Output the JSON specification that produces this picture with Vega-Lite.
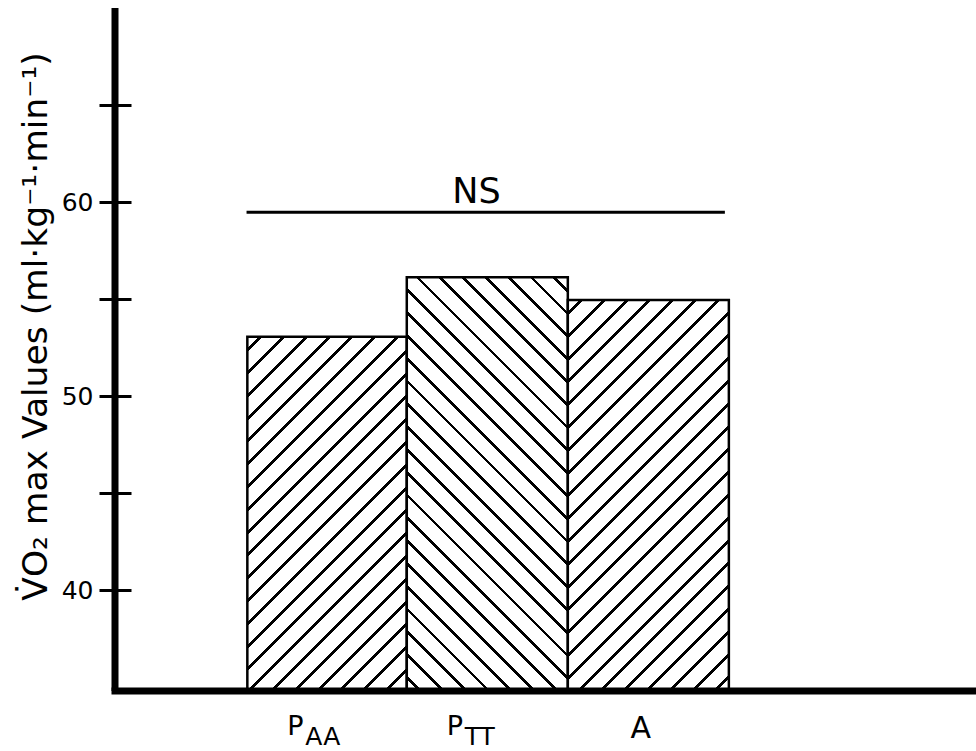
{
  "$schema": "https://vega.github.io/schema/vega-lite/v6.json",
  "width": 861,
  "height": 683,
  "autosize": {"type": "none"},
  "padding": {"left": 115, "top": 8, "right": 0, "bottom": 60},
  "background": "white",
  "config": {"view": {"stroke": null}, "font": "DejaVu Sans"},
  "datasets": {
    "bars": [
      {"group": "PAA", "main": "P", "sub": "AA", "x0": 0.83, "x1": 1.83, "vo2": 53.06},
      {"group": "PTT", "main": "P", "sub": "TT", "x0": 1.83, "x1": 2.84, "vo2": 56.12},
      {"group": "A", "main": "A", "sub": "", "x0": 2.84, "x1": 3.85, "vo2": 54.95}
    ],
    "ns": [{"label": "NS", "from": 0.825, "to": 3.825, "level": 59.47}]
  },
  "layer": [
    {
      "data": {"name": "bars"},
      "transform": [{"filter": "datum.group === 'PAA'"}],
      "mark": {"type": "rect", "stroke": "black", "strokeWidth": 2.5,
        "fill": {"gradient": "linear", "x1": 0, "y1": 0, "x2": 0.6262, "y2": 1.3914, "stops": [
          {"offset":0,"color":"#fff"},
          {"offset":0.01978,"color":"#fff"},{"offset":0.01978,"color":"#000"},{"offset":0.02638,"color":"#000"},{"offset":0.02638,"color":"#fff"},
          {"offset":0.05824,"color":"#fff"},{"offset":0.05824,"color":"#000"},{"offset":0.06484,"color":"#000"},{"offset":0.06484,"color":"#fff"},
          {"offset":0.0967,"color":"#fff"},{"offset":0.0967,"color":"#000"},{"offset":0.1033,"color":"#000"},{"offset":0.1033,"color":"#fff"},
          {"offset":0.13516,"color":"#fff"},{"offset":0.13516,"color":"#000"},{"offset":0.14176,"color":"#000"},{"offset":0.14176,"color":"#fff"},
          {"offset":0.17362,"color":"#fff"},{"offset":0.17362,"color":"#000"},{"offset":0.18022,"color":"#000"},{"offset":0.18022,"color":"#fff"},
          {"offset":0.21208,"color":"#fff"},{"offset":0.21208,"color":"#000"},{"offset":0.21868,"color":"#000"},{"offset":0.21868,"color":"#fff"},
          {"offset":0.25055,"color":"#fff"},{"offset":0.25055,"color":"#000"},{"offset":0.25715,"color":"#000"},{"offset":0.25715,"color":"#fff"},
          {"offset":0.28901,"color":"#fff"},{"offset":0.28901,"color":"#000"},{"offset":0.29561,"color":"#000"},{"offset":0.29561,"color":"#fff"},
          {"offset":0.32747,"color":"#fff"},{"offset":0.32747,"color":"#000"},{"offset":0.33407,"color":"#000"},{"offset":0.33407,"color":"#fff"},
          {"offset":0.36593,"color":"#fff"},{"offset":0.36593,"color":"#000"},{"offset":0.37253,"color":"#000"},{"offset":0.37253,"color":"#fff"},
          {"offset":0.40439,"color":"#fff"},{"offset":0.40439,"color":"#000"},{"offset":0.41099,"color":"#000"},{"offset":0.41099,"color":"#fff"},
          {"offset":0.44285,"color":"#fff"},{"offset":0.44285,"color":"#000"},{"offset":0.44945,"color":"#000"},{"offset":0.44945,"color":"#fff"},
          {"offset":0.48132,"color":"#fff"},{"offset":0.48132,"color":"#000"},{"offset":0.48792,"color":"#000"},{"offset":0.48792,"color":"#fff"},
          {"offset":0.51978,"color":"#fff"},{"offset":0.51978,"color":"#000"},{"offset":0.52638,"color":"#000"},{"offset":0.52638,"color":"#fff"},
          {"offset":0.55824,"color":"#fff"},{"offset":0.55824,"color":"#000"},{"offset":0.56484,"color":"#000"},{"offset":0.56484,"color":"#fff"},
          {"offset":0.5967,"color":"#fff"},{"offset":0.5967,"color":"#000"},{"offset":0.6033,"color":"#000"},{"offset":0.6033,"color":"#fff"},
          {"offset":0.63516,"color":"#fff"},{"offset":0.63516,"color":"#000"},{"offset":0.64176,"color":"#000"},{"offset":0.64176,"color":"#fff"},
          {"offset":0.67362,"color":"#fff"},{"offset":0.67362,"color":"#000"},{"offset":0.68022,"color":"#000"},{"offset":0.68022,"color":"#fff"},
          {"offset":0.71208,"color":"#fff"},{"offset":0.71208,"color":"#000"},{"offset":0.71868,"color":"#000"},{"offset":0.71868,"color":"#fff"},
          {"offset":0.75055,"color":"#fff"},{"offset":0.75055,"color":"#000"},{"offset":0.75715,"color":"#000"},{"offset":0.75715,"color":"#fff"},
          {"offset":0.78901,"color":"#fff"},{"offset":0.78901,"color":"#000"},{"offset":0.79561,"color":"#000"},{"offset":0.79561,"color":"#fff"},
          {"offset":0.82747,"color":"#fff"},{"offset":0.82747,"color":"#000"},{"offset":0.83407,"color":"#000"},{"offset":0.83407,"color":"#fff"},
          {"offset":0.86593,"color":"#fff"},{"offset":0.86593,"color":"#000"},{"offset":0.87253,"color":"#000"},{"offset":0.87253,"color":"#fff"},
          {"offset":0.90439,"color":"#fff"},{"offset":0.90439,"color":"#000"},{"offset":0.91099,"color":"#000"},{"offset":0.91099,"color":"#fff"},
          {"offset":0.94285,"color":"#fff"},{"offset":0.94285,"color":"#000"},{"offset":0.94945,"color":"#000"},{"offset":0.94945,"color":"#fff"},
          {"offset":0.98132,"color":"#fff"},{"offset":0.98132,"color":"#000"},{"offset":0.98792,"color":"#000"},{"offset":0.98792,"color":"#fff"},
          {"offset":1,"color":"#fff"}
        ]}},
      "encoding": {
        "x": {"field": "x0", "type": "quantitative", "scale": {"domain": [0, 5.4], "nice": false, "zero": false}, "axis": null},
        "x2": {"field": "x1"},
        "y": {"field": "vo2", "type": "quantitative",
          "scale": {"domain": [34.8, 70], "nice": false, "zero": false},
          "axis": {
            "values": [40, 45, 50, 55, 60, 65],
            "labelExpr": "datum.value % 10 === 0 ? datum.label : ''",
            "domain": false, "grid": false, "offset": -16,
            "tickSize": 32, "tickWidth": 3, "tickColor": "black",
            "labelFontSize": 25, "labelColor": "black", "labelPadding": 6, "labelFont": "DejaVu Sans",
            "title": "V\u0307O\u2082 max Values (ml\u00b7kg\u207b\u00b9\u00b7min\u207b\u00b9)",
            "titleFontSize": 34.5, "titleFontWeight": "normal", "titleColor": "black", "titleFont": "DejaVu Sans",
            "titlePadding": 8, "titleY": 318
          }},
        "y2": {"datum": 34.8}
      }
    },
    {
      "data": {"name": "bars"},
      "transform": [{"filter": "datum.group === 'PTT'"}],
      "mark": {"type": "rect", "stroke": "black", "strokeWidth": 2.5,
        "fill": {"gradient": "linear", "x1": 1, "y1": 0, "x2": 0.5156, "y2": 1.2444, "stops": [
          {"offset":0,"color":"#fff"},
          {"offset":0.01978,"color":"#fff"},{"offset":0.01978,"color":"#000"},{"offset":0.02638,"color":"#000"},{"offset":0.02638,"color":"#fff"},
          {"offset":0.05824,"color":"#fff"},{"offset":0.05824,"color":"#000"},{"offset":0.06484,"color":"#000"},{"offset":0.06484,"color":"#fff"},
          {"offset":0.0967,"color":"#fff"},{"offset":0.0967,"color":"#000"},{"offset":0.1033,"color":"#000"},{"offset":0.1033,"color":"#fff"},
          {"offset":0.13516,"color":"#fff"},{"offset":0.13516,"color":"#000"},{"offset":0.14176,"color":"#000"},{"offset":0.14176,"color":"#fff"},
          {"offset":0.17362,"color":"#fff"},{"offset":0.17362,"color":"#000"},{"offset":0.18022,"color":"#000"},{"offset":0.18022,"color":"#fff"},
          {"offset":0.21208,"color":"#fff"},{"offset":0.21208,"color":"#000"},{"offset":0.21868,"color":"#000"},{"offset":0.21868,"color":"#fff"},
          {"offset":0.25055,"color":"#fff"},{"offset":0.25055,"color":"#000"},{"offset":0.25715,"color":"#000"},{"offset":0.25715,"color":"#fff"},
          {"offset":0.28901,"color":"#fff"},{"offset":0.28901,"color":"#000"},{"offset":0.29561,"color":"#000"},{"offset":0.29561,"color":"#fff"},
          {"offset":0.32747,"color":"#fff"},{"offset":0.32747,"color":"#000"},{"offset":0.33407,"color":"#000"},{"offset":0.33407,"color":"#fff"},
          {"offset":0.36593,"color":"#fff"},{"offset":0.36593,"color":"#000"},{"offset":0.37253,"color":"#000"},{"offset":0.37253,"color":"#fff"},
          {"offset":0.40439,"color":"#fff"},{"offset":0.40439,"color":"#000"},{"offset":0.41099,"color":"#000"},{"offset":0.41099,"color":"#fff"},
          {"offset":0.44285,"color":"#fff"},{"offset":0.44285,"color":"#000"},{"offset":0.44945,"color":"#000"},{"offset":0.44945,"color":"#fff"},
          {"offset":0.48132,"color":"#fff"},{"offset":0.48132,"color":"#000"},{"offset":0.48792,"color":"#000"},{"offset":0.48792,"color":"#fff"},
          {"offset":0.51978,"color":"#fff"},{"offset":0.51978,"color":"#000"},{"offset":0.52638,"color":"#000"},{"offset":0.52638,"color":"#fff"},
          {"offset":0.55824,"color":"#fff"},{"offset":0.55824,"color":"#000"},{"offset":0.56484,"color":"#000"},{"offset":0.56484,"color":"#fff"},
          {"offset":0.5967,"color":"#fff"},{"offset":0.5967,"color":"#000"},{"offset":0.6033,"color":"#000"},{"offset":0.6033,"color":"#fff"},
          {"offset":0.63516,"color":"#fff"},{"offset":0.63516,"color":"#000"},{"offset":0.64176,"color":"#000"},{"offset":0.64176,"color":"#fff"},
          {"offset":0.67362,"color":"#fff"},{"offset":0.67362,"color":"#000"},{"offset":0.68022,"color":"#000"},{"offset":0.68022,"color":"#fff"},
          {"offset":0.71208,"color":"#fff"},{"offset":0.71208,"color":"#000"},{"offset":0.71868,"color":"#000"},{"offset":0.71868,"color":"#fff"},
          {"offset":0.75055,"color":"#fff"},{"offset":0.75055,"color":"#000"},{"offset":0.75715,"color":"#000"},{"offset":0.75715,"color":"#fff"},
          {"offset":0.78901,"color":"#fff"},{"offset":0.78901,"color":"#000"},{"offset":0.79561,"color":"#000"},{"offset":0.79561,"color":"#fff"},
          {"offset":0.82747,"color":"#fff"},{"offset":0.82747,"color":"#000"},{"offset":0.83407,"color":"#000"},{"offset":0.83407,"color":"#fff"},
          {"offset":0.86593,"color":"#fff"},{"offset":0.86593,"color":"#000"},{"offset":0.87253,"color":"#000"},{"offset":0.87253,"color":"#fff"},
          {"offset":0.90439,"color":"#fff"},{"offset":0.90439,"color":"#000"},{"offset":0.91099,"color":"#000"},{"offset":0.91099,"color":"#fff"},
          {"offset":0.94285,"color":"#fff"},{"offset":0.94285,"color":"#000"},{"offset":0.94945,"color":"#000"},{"offset":0.94945,"color":"#fff"},
          {"offset":0.98132,"color":"#fff"},{"offset":0.98132,"color":"#000"},{"offset":0.98792,"color":"#000"},{"offset":0.98792,"color":"#fff"},
          {"offset":1,"color":"#fff"}
        ]}},
      "encoding": {
        "x": {"field": "x0", "type": "quantitative", "axis": null},
        "x2": {"field": "x1"},
        "y": {"field": "vo2", "type": "quantitative"},
        "y2": {"datum": 34.8}
      }
    },
    {
      "data": {"name": "bars"},
      "transform": [{"filter": "datum.group === 'A'"}],
      "mark": {"type": "rect", "stroke": "black", "strokeWidth": 2.5,
        "fill": {"gradient": "linear", "x1": 0, "y1": 0, "x2": 0.5339, "y2": 1.2962, "stops": [
          {"offset":0,"color":"#fff"},
          {"offset":0.01978,"color":"#fff"},{"offset":0.01978,"color":"#000"},{"offset":0.02638,"color":"#000"},{"offset":0.02638,"color":"#fff"},
          {"offset":0.05824,"color":"#fff"},{"offset":0.05824,"color":"#000"},{"offset":0.06484,"color":"#000"},{"offset":0.06484,"color":"#fff"},
          {"offset":0.0967,"color":"#fff"},{"offset":0.0967,"color":"#000"},{"offset":0.1033,"color":"#000"},{"offset":0.1033,"color":"#fff"},
          {"offset":0.13516,"color":"#fff"},{"offset":0.13516,"color":"#000"},{"offset":0.14176,"color":"#000"},{"offset":0.14176,"color":"#fff"},
          {"offset":0.17362,"color":"#fff"},{"offset":0.17362,"color":"#000"},{"offset":0.18022,"color":"#000"},{"offset":0.18022,"color":"#fff"},
          {"offset":0.21208,"color":"#fff"},{"offset":0.21208,"color":"#000"},{"offset":0.21868,"color":"#000"},{"offset":0.21868,"color":"#fff"},
          {"offset":0.25055,"color":"#fff"},{"offset":0.25055,"color":"#000"},{"offset":0.25715,"color":"#000"},{"offset":0.25715,"color":"#fff"},
          {"offset":0.28901,"color":"#fff"},{"offset":0.28901,"color":"#000"},{"offset":0.29561,"color":"#000"},{"offset":0.29561,"color":"#fff"},
          {"offset":0.32747,"color":"#fff"},{"offset":0.32747,"color":"#000"},{"offset":0.33407,"color":"#000"},{"offset":0.33407,"color":"#fff"},
          {"offset":0.36593,"color":"#fff"},{"offset":0.36593,"color":"#000"},{"offset":0.37253,"color":"#000"},{"offset":0.37253,"color":"#fff"},
          {"offset":0.40439,"color":"#fff"},{"offset":0.40439,"color":"#000"},{"offset":0.41099,"color":"#000"},{"offset":0.41099,"color":"#fff"},
          {"offset":0.44285,"color":"#fff"},{"offset":0.44285,"color":"#000"},{"offset":0.44945,"color":"#000"},{"offset":0.44945,"color":"#fff"},
          {"offset":0.48132,"color":"#fff"},{"offset":0.48132,"color":"#000"},{"offset":0.48792,"color":"#000"},{"offset":0.48792,"color":"#fff"},
          {"offset":0.51978,"color":"#fff"},{"offset":0.51978,"color":"#000"},{"offset":0.52638,"color":"#000"},{"offset":0.52638,"color":"#fff"},
          {"offset":0.55824,"color":"#fff"},{"offset":0.55824,"color":"#000"},{"offset":0.56484,"color":"#000"},{"offset":0.56484,"color":"#fff"},
          {"offset":0.5967,"color":"#fff"},{"offset":0.5967,"color":"#000"},{"offset":0.6033,"color":"#000"},{"offset":0.6033,"color":"#fff"},
          {"offset":0.63516,"color":"#fff"},{"offset":0.63516,"color":"#000"},{"offset":0.64176,"color":"#000"},{"offset":0.64176,"color":"#fff"},
          {"offset":0.67362,"color":"#fff"},{"offset":0.67362,"color":"#000"},{"offset":0.68022,"color":"#000"},{"offset":0.68022,"color":"#fff"},
          {"offset":0.71208,"color":"#fff"},{"offset":0.71208,"color":"#000"},{"offset":0.71868,"color":"#000"},{"offset":0.71868,"color":"#fff"},
          {"offset":0.75055,"color":"#fff"},{"offset":0.75055,"color":"#000"},{"offset":0.75715,"color":"#000"},{"offset":0.75715,"color":"#fff"},
          {"offset":0.78901,"color":"#fff"},{"offset":0.78901,"color":"#000"},{"offset":0.79561,"color":"#000"},{"offset":0.79561,"color":"#fff"},
          {"offset":0.82747,"color":"#fff"},{"offset":0.82747,"color":"#000"},{"offset":0.83407,"color":"#000"},{"offset":0.83407,"color":"#fff"},
          {"offset":0.86593,"color":"#fff"},{"offset":0.86593,"color":"#000"},{"offset":0.87253,"color":"#000"},{"offset":0.87253,"color":"#fff"},
          {"offset":0.90439,"color":"#fff"},{"offset":0.90439,"color":"#000"},{"offset":0.91099,"color":"#000"},{"offset":0.91099,"color":"#fff"},
          {"offset":0.94285,"color":"#fff"},{"offset":0.94285,"color":"#000"},{"offset":0.94945,"color":"#000"},{"offset":0.94945,"color":"#fff"},
          {"offset":0.98132,"color":"#fff"},{"offset":0.98132,"color":"#000"},{"offset":0.98792,"color":"#000"},{"offset":0.98792,"color":"#fff"},
          {"offset":1,"color":"#fff"}
        ]}},
      "encoding": {
        "x": {"field": "x0", "type": "quantitative", "axis": null},
        "x2": {"field": "x1"},
        "y": {"field": "vo2", "type": "quantitative"},
        "y2": {"datum": 34.8}
      }
    },
    {
      "data": {"name": "ns"},
      "mark": {"type": "rule", "color": "black", "strokeWidth": 3},
      "encoding": {
        "x": {"field": "from", "type": "quantitative", "axis": null},
        "x2": {"field": "to"},
        "y": {"field": "level", "type": "quantitative"}
      }
    },
    {
      "data": {"name": "ns"},
      "mark": {"type": "text", "color": "black", "fontSize": 35, "align": "center", "baseline": "alphabetic", "dx": 230, "dy": -9},
      "encoding": {
        "x": {"field": "from", "type": "quantitative", "axis": null},
        "y": {"field": "level", "type": "quantitative"},
        "text": {"field": "label"}
      }
    },
    {
      "data": {"name": "bars"},
      "transform": [{"filter": "datum.main === 'P'"}],
      "mark": {"type": "text", "color": "black", "fontSize": 27, "align": "center", "baseline": "alphabetic", "dx": 48, "dy": 44},
      "encoding": {
        "x": {"field": "x0", "type": "quantitative", "axis": null},
        "y": {"datum": 34.8, "type": "quantitative"},
        "text": {"field": "main"}
      }
    },
    {
      "data": {"name": "bars"},
      "transform": [{"filter": "datum.main === 'A'"}],
      "mark": {"type": "text", "color": "black", "fontSize": 30, "align": "center", "baseline": "alphabetic", "dx": 73, "dy": 47},
      "encoding": {
        "x": {"field": "x0", "type": "quantitative", "axis": null},
        "y": {"datum": 34.8, "type": "quantitative"},
        "text": {"field": "main"}
      }
    },
    {
      "data": {"name": "bars"},
      "transform": [{"filter": "datum.sub !== ''"}],
      "mark": {"type": "text", "color": "black", "fontSize": 25, "align": "left", "baseline": "alphabetic", "dx": 58, "dy": 54},
      "encoding": {
        "x": {"field": "x0", "type": "quantitative", "axis": null},
        "y": {"datum": 34.8, "type": "quantitative"},
        "text": {"field": "sub"}
      }
    },
    {
      "data": {"values": [{}]},
      "mark": {"type": "rule", "color": "black", "strokeWidth": 7},
      "encoding": {
        "x": {"datum": 0, "type": "quantitative", "axis": null},
        "y": {"datum": 34.8, "type": "quantitative"},
        "y2": {"datum": 70}
      }
    },
    {
      "data": {"values": [{}]},
      "mark": {"type": "rule", "color": "black", "strokeWidth": 7, "strokeCap": "square"},
      "encoding": {
        "x": {"datum": 0, "type": "quantitative", "axis": null},
        "x2": {"datum": 5.4},
        "y": {"datum": 34.8, "type": "quantitative"}
      }
    }
  ]
}
